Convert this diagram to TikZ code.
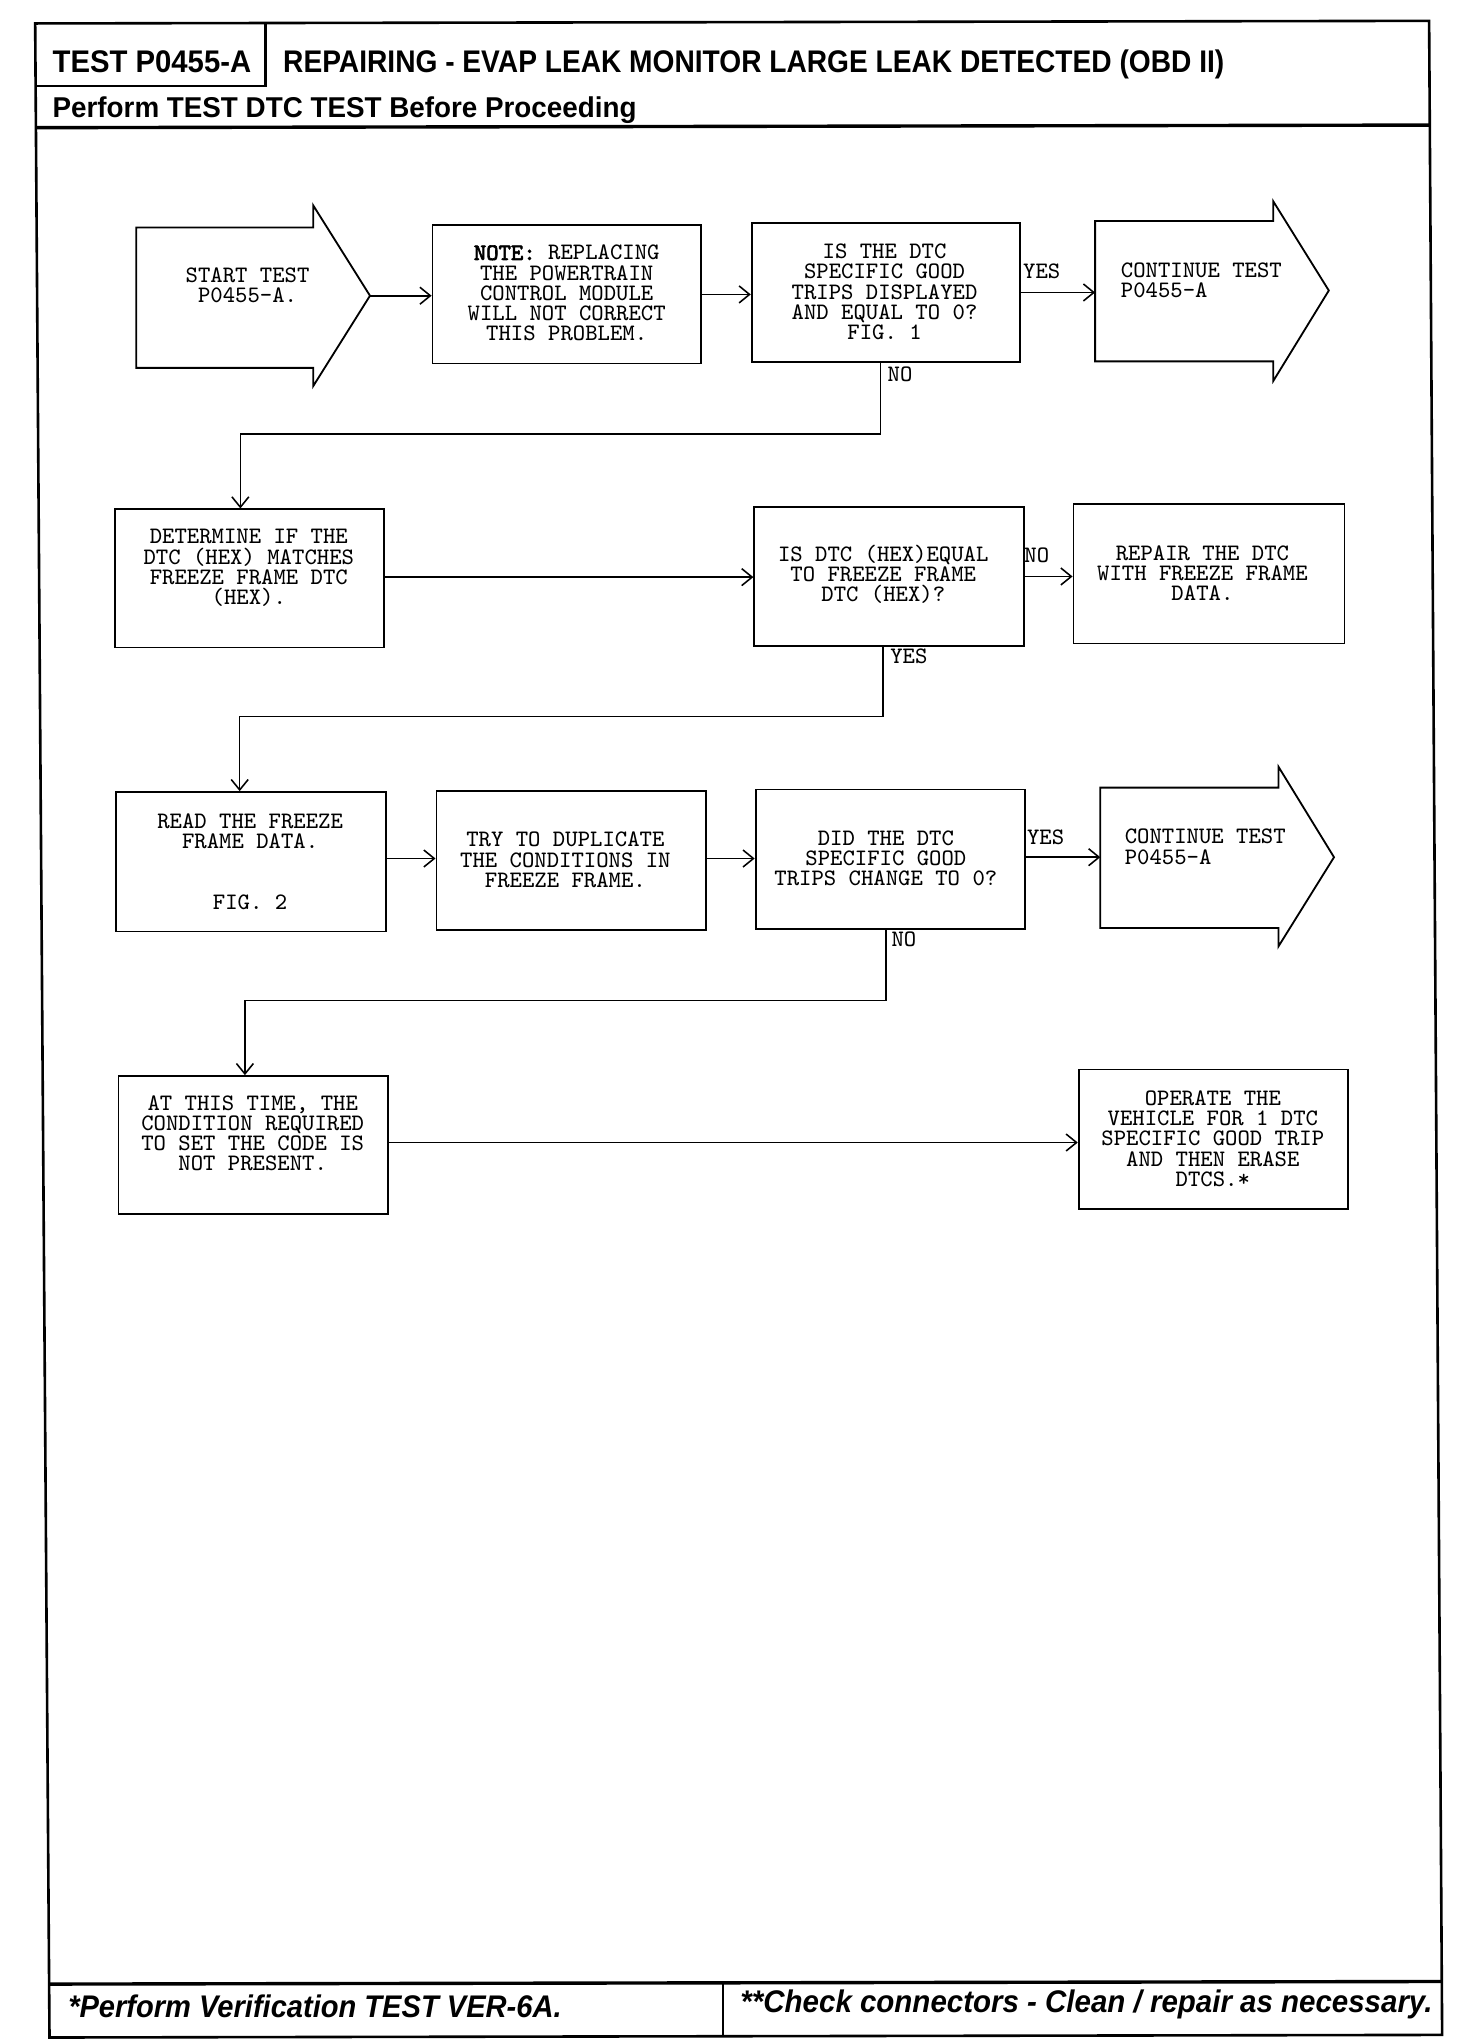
\documentclass[tikz,border=0pt]{standalone}
\usepackage{fontspec}
\newfontfamily\hv{Liberation Sans}
\newfontfamily\ttbold{Latin Modern Mono}[FakeBold=2.5]
\usetikzlibrary{arrows.meta,fit,calc}
\begin{document}
\begin{tikzpicture}[x=0.5pt,y=-0.5pt,
  box/.style={draw, line width=0.7pt, inner sep=0pt},
  body/.style={inner sep=0pt},
  outline/.style={line width=0.7pt, line join=miter},
  txt/.style={font=\ttfamily\fontsize{9.05}{7.75}\selectfont, align=center, inner sep=0pt},
  lbl/.style={font=\ttfamily\fontsize{9.05}{7.75}\selectfont, anchor=west, inner sep=0pt},
  arr/.style={line width=0.6pt, -{Straight Barb[length=4pt,width=6.5pt]}},
  frame/.style={line width=1pt},
  sep/.style={line width=1.3pt},
  head/.style={anchor=base west, inner sep=0pt, font=\hv\bfseries\fontsize{12}{12}\selectfont},
  foot/.style={anchor=base west, inner sep=0pt, font=\hv\bfseries\itshape\fontsize{12}{12}\selectfont},
]
\useasboundingbox (0,0) rectangle (1130,1569);

% page frame
\draw[frame] (27,18) -- (1097,16) -- (1107,1562) -- (38,1564) -- cycle;
\draw[frame] (27.3,66) -- (204,66) -- (204,17.5);
\draw[sep] (27.6,98) -- (1097.6,96);
\draw[sep] (37.5,1523) -- (1106.7,1521);
\draw[frame] (555,1522) -- (555,1563);

% header / footer texts
\node[head] (hid) at (40,56) {\scalebox{0.937}[1]{TEST P0455-A}};
\node[head] (htitle) at (217,56) {\scalebox{0.9}[1]{REPAIRING - EVAP LEAK MONITOR LARGE LEAK DETECTED (OBD II)}};
\node[head, font=\hv\bfseries\fontsize{11}{11}\selectfont] (hperf) at (40,90) {\scalebox{0.97}[1]{Perform TEST DTC TEST Before Proceeding}};
\node[foot] (fleft) at (52,1549) {\scalebox{0.93}[1]{*Perform Verification TEST VER-6A.}};
\node[foot] (fright) at (568,1545) {\scalebox{0.943}[1]{**Check connectors - Clean / repair as necessary.}};

% row 1
\node[body, fit={(105,175) (240,282)}] (start) {};
\coordinate (starttip) at (284,227);
\draw[outline] (start.north west) -- (start.north east) -- ($(start.north east)+(0,-17)$) -- (starttip)
  -- ($(start.south east)+(0,14)$) -- (start.south east) -- (start.south west) -- cycle;
\node[txt] (tstart) at (190,219) {START TEST\\P0455-A.};

\node[box, fit={(332,173) (538,279)}] (note) {};
\node[txt] (tnote) at (435,225) {{\ttbold NOTE:} REPLACING\\THE POWERTRAIN\\CONTROL MODULE\\WILL NOT CORRECT\\THIS PROBLEM.};

\node[box, fit={(577,171) (783,278)}] (q1) {};
\node[txt] (tq1) at (679,224) {IS THE DTC\\SPECIFIC GOOD\\TRIPS DISPLAYED\\AND EQUAL TO 0?\\FIG. 1};

\node[body, fit={(841,170) (977,277)}] (cont1) {};
\coordinate (cont1tip) at (1020,223);
\draw[outline] (cont1.north west) -- (cont1.north east) -- ($(cont1.north east)+(0,-15)$) -- (cont1tip)
  -- ($(cont1.south east)+(0,15)$) -- (cont1.south east) -- (cont1.south west) -- cycle;
\node[txt, align=left, anchor=west] (tc1) at (860,215) {CONTINUE TEST\\P0455-A};

% row 2
\node[box, fit={(88,391) (295,497)}] (det) {};
\node[txt] (tdet) at (191,436) {DETERMINE IF THE\\DTC (HEX) MATCHES\\FREEZE FRAME DTC\\(HEX).};

\node[box, fit={(579,389) (786,496)}] (q2) {};
\node[txt] (tq2) at (678,441) {IS DTC (HEX)EQUAL\\TO FREEZE FRAME\\DTC (HEX)?};

\node[box, fit={(824,387) (1032,494)}] (rep) {};
\node[txt] (trep) at (923,440) {REPAIR THE DTC\\WITH FREEZE FRAME\\DATA.};

% row 3
\node[box, fit={(89,608) (296,715)}] (read) {};
\node[txt] (tread) at (192,661.5) {READ THE FREEZE\\FRAME DATA.\\ \\ \\FIG. 2};

\node[box, fit={(335,607) (542,714)}] (try) {};
\node[txt] (ttry) at (434,660) {TRY TO DUPLICATE\\THE CONDITIONS IN\\FREEZE FRAME.};

\node[box, fit={(580,606) (787,713)}] (q3) {};
\node[txt] (tq3) at (680,659) {DID THE DTC\\SPECIFIC GOOD\\TRIPS CHANGE TO 0?};

\node[body, fit={(845,605) (981,712)}] (cont2) {};
\coordinate (cont2tip) at (1024,658);
\draw[outline] (cont2.north west) -- (cont2.north east) -- ($(cont2.north east)+(0,-16)$) -- (cont2tip)
  -- ($(cont2.south east)+(0,14)$) -- (cont2.south east) -- (cont2.south west) -- cycle;
\node[txt, align=left, anchor=west] (tc2) at (863,650) {CONTINUE TEST\\P0455-A};

% row 4
\node[box, fit={(91,826) (298,932)}] (now) {};
\node[txt] (tnow) at (194,870) {AT THIS TIME, THE\\CONDITION REQUIRED\\TO SET THE CODE IS\\NOT PRESENT.};

\node[box, fit={(828,821) (1035,928)}] (oper) {};
\node[txt] (toper) at (931,874) {OPERATE THE\\VEHICLE FOR 1 DTC\\SPECIFIC GOOD TRIP\\AND THEN ERASE\\DTCS.*};

% connectors
\draw[arr] (starttip) -- (starttip -| note.west);
\draw[arr] (note.east) -- (note.east -| q1.west);
\draw[arr] (q1.east) -- (q1.east -| cont1.west);
\draw[arr] ([xshift=-2pt]q1.south) -- ([xshift=-2pt]q1.south |- 0,333) -| ([xshift=-3.5pt]det.north);
\draw[arr] (det.east |- 0,443) -- (q2.west |- 0,443);
\draw[arr] (q2.east) -- (q2.east -| rep.west);
\draw[arr] ([xshift=-2.25pt]q2.south) -- ([xshift=-2.25pt]q2.south |- 0,550) -| ([xshift=-4.25pt]read.north);
\draw[arr] (read.east |- 0,659) -- (try.west |- 0,659);
\draw[arr] (try.east |- 0,659) -- (q3.west |- 0,659);
\draw[arr] (q3.east |- 0,658) -- (cont2.west |- 0,658);
\draw[arr] ([xshift=-1.75pt]q3.south) -- ([xshift=-1.75pt]q3.south |- 0,768) -| ([xshift=-3.25pt]now.north);
\draw[arr] (now.east |- 0,877) -- (oper.west |- 0,877);

% branch labels
\node[lbl] (yes1) at (785,208) {YES};
\node[lbl] (no1) at (681,287) {NO};
\node[lbl] (no2) at (786,426) {NO};
\node[lbl] (yes2) at (683,504) {YES};
\node[lbl] (yes3) at (788,643) {YES};
\node[lbl] (no3) at (684,721) {NO};
\end{tikzpicture}
\end{document}
